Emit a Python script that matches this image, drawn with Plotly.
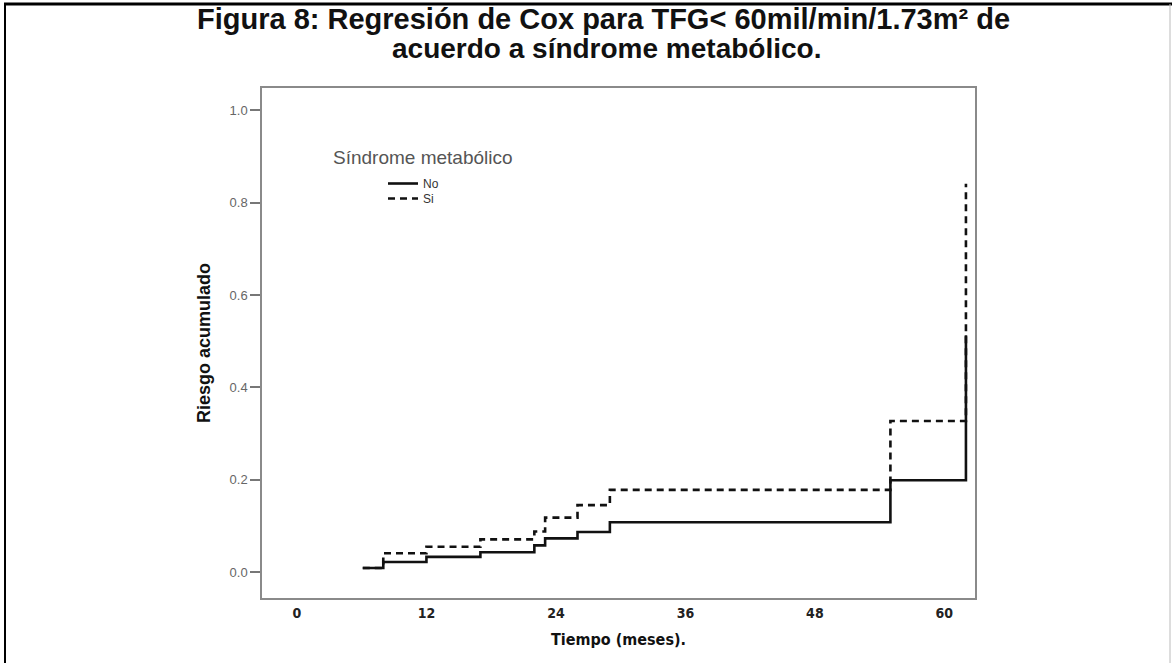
import plotly.graph_objects as go

# Data (step-function cumulative risk)
tiempo = [6.1, 8.0, 12.0, 17.0, 22.0, 23.0, 26.0, 29.0, 55.0, 62.0]
riesgo_no = [0.009, 0.022, 0.033, 0.043, 0.058, 0.073, 0.087, 0.108, 0.199, 0.513]
riesgo_si = [0.009, 0.041, 0.055, 0.071, 0.088, 0.118, 0.145, 0.178, 0.327, 0.841]
x_ticks = [0, 12, 24, 36, 48, 60]
y_ticks = [0.0, 0.2, 0.4, 0.6, 0.8, 1.0]

W, H = 1175, 663
L, R, T, B = 262, 975, 88, 598

def px(x):
    return (x - L) / (R - L)

def py(y):
    return (B - y) / (B - T)

fig = go.Figure()
fig.add_trace(go.Scatter(x=tiempo, y=riesgo_no, mode="lines", name="No", legend="legend",
                         line=dict(shape="hv", color="#111111", width=2.6)))
fig.add_trace(go.Scatter(x=tiempo, y=riesgo_si, mode="lines", name="Si", legend="legend2",
                         line=dict(shape="hv", color="#111111", width=2.6, dash="7px,5px")))

leg_font = dict(family="Liberation Sans, Arial", size=12, color="#333333")
fig.update_layout(
    width=W, height=H,
    margin=dict(l=L, r=W - R, t=T, b=H - B),
    paper_bgcolor="white", plot_bgcolor="white",
    showlegend=True,
    legend=dict(x=px(383), y=py(169), xanchor="left", yanchor="top",
                bgcolor="rgba(0,0,0,0)", itemwidth=30, font=leg_font),
    legend2=dict(x=px(383), y=py(184), xanchor="left", yanchor="top",
                 bgcolor="rgba(0,0,0,0)", itemwidth=30, font=leg_font),
    font=dict(family="Liberation Sans, Arial"),
)

fig.add_annotation(text="<b>Figura 8: Regresión de Cox para TFG&lt; 60mil/min/1.73m² de</b>",
                   xref="paper", yref="paper", x=px(603), y=py(19), xanchor="center", yanchor="middle",
                   showarrow=False, font=dict(family="Liberation Sans, Arial", size=29, color="#111111"))
fig.add_annotation(text="<b>acuerdo a síndrome metabólico.</b>",
                   xref="paper", yref="paper", x=px(606), y=py(48), xanchor="center", yanchor="middle",
                   showarrow=False, font=dict(family="Liberation Sans, Arial", size=28, color="#111111"))

fig.update_xaxes(range=[-3.24, 62.84], tickvals=x_ticks,
                 ticktext=[f"<b>{v}</b>" for v in x_ticks],
                 ticks="", showgrid=False, zeroline=False,
                 showline=True, linecolor="#8a8a8a", linewidth=1.5, mirror=True,
                 ticklabelstandoff=1,
                 tickfont=dict(family="DejaVu Sans Condensed, DejaVu Sans", size=14, color="#222222"),
                 title=dict(text="<b>Tiempo (meses).</b>", standoff=14,
                            font=dict(family="DejaVu Sans Condensed, DejaVu Sans", size=16, color="#111111")))
fig.update_yaxes(range=[-0.056, 1.048], tickvals=y_ticks, tickformat=".1f",
                 ticks="outside", ticklen=10, tickcolor="#777777", tickwidth=1.5,
                 showgrid=False, zeroline=False,
                 showline=True, linecolor="#8a8a8a", linewidth=1.5, mirror=True,
                 tickfont=dict(family="Liberation Sans, Arial", size=13, color="#666666"),
                 title=dict(text="<b>Riesgo acumulado</b>", standoff=14,
                            font=dict(family="Liberation Sans, Arial", size=18, color="#111111")))

# legend title
fig.add_annotation(text="Síndrome metabólico", xref="paper", yref="paper",
                   x=px(331), y=py(157), xanchor="left", yanchor="middle", showarrow=False,
                   font=dict(family="Liberation Sans, Arial", size=19, color="#555555"))

# outer image border
fig.add_shape(type="line", xref="paper", yref="paper", x0=px(4), x1=px(1172), y0=py(4), y1=py(4),
              line=dict(color="black", width=3))
fig.add_shape(type="line", xref="paper", yref="paper", x0=px(5), x1=px(5), y0=py(4), y1=py(663),
              line=dict(color="black", width=2))
fig.add_shape(type="line", xref="paper", yref="paper", x0=px(1170), x1=px(1170), y0=py(4), y1=py(663),
              line=dict(color="#bbbbbb", width=1))

fig.write_html("out.html", config={"displayModeBar": False},
               post_script="document.body.style.margin='0px';")
